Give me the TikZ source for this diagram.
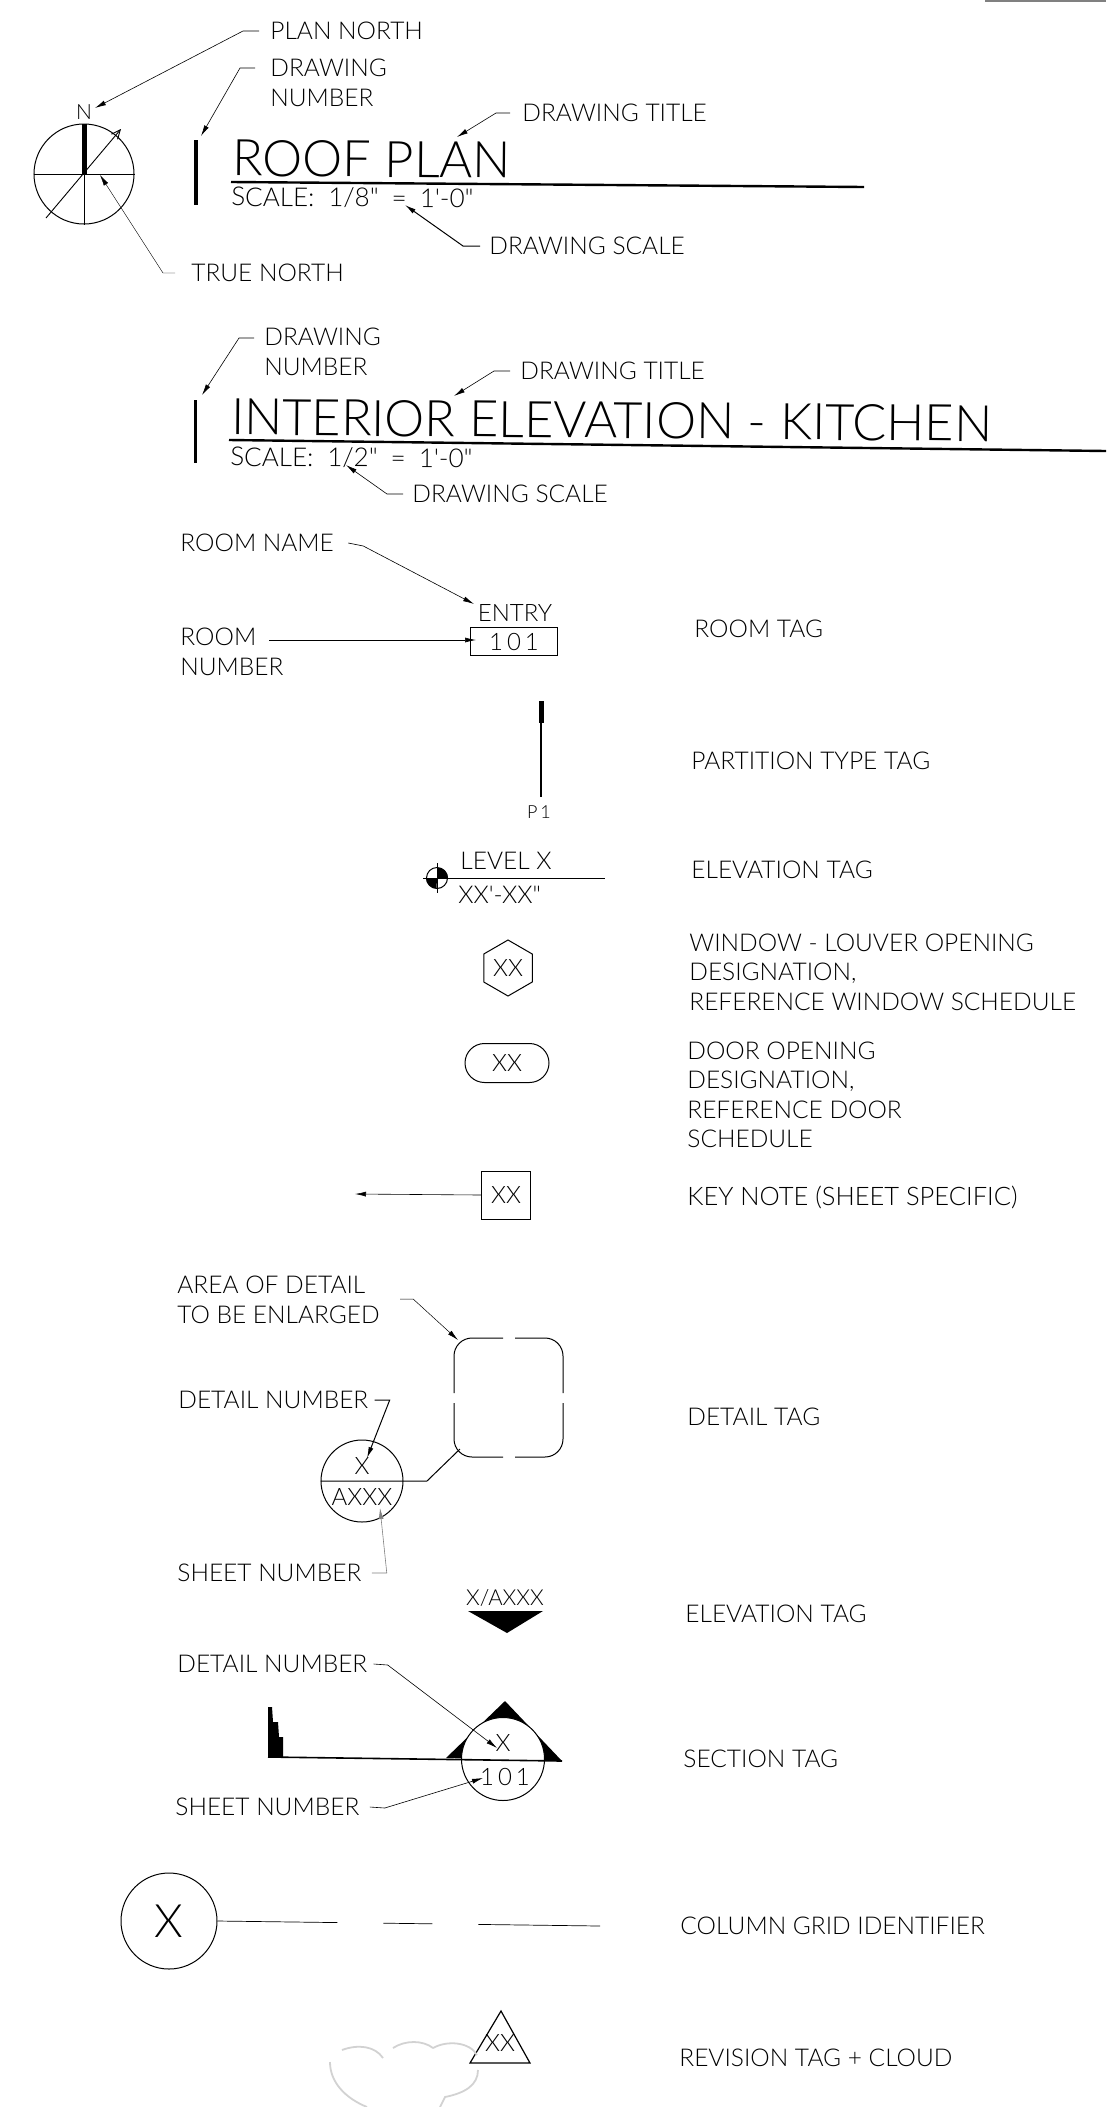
\documentclass[tikz,border=0pt]{standalone}
\usepackage{fontspec}
\setmainfont{Lato Light}[Ligatures=TeXOff]
\usepackage{xcolor}
\usepackage{tikz}
\usetikzlibrary{calc}
\usetikzlibrary{arrows}
\usetikzlibrary{arrows.meta}
\usetikzlibrary{shapes}
\usetikzlibrary{shapes.geometric}
\tikzset{>=latex}
\tikzstyle{lbl} = [draw=none, inner sep=0pt, anchor=west, align=left, font=\fontsize{24.5}{29.5}\selectfont]
\tikzstyle{lbltwo} = [lbl, anchor=north west]
\tikzstyle{ttl} = [lbl, rotate=-0.5, font=\fontsize{50.5}{51}\selectfont]
\tikzstyle{scl} = [lbl, rotate=-0.4, font=\fontsize{26}{26}\selectfont]
\tikzstyle{tagtxt} = [draw=none, inner sep=0pt, font=\fontsize{24}{24}\selectfont]
\tikzstyle{leader} = [-{Latex[length=11pt,width=5pt]}, line width=0.6pt]
\tikzstyle{faint} = [leader, draw=gray]
\tikzstyle{bar} = [line width=3.5pt]
\tikzstyle{rule} = [line width=2.4pt]
\tikzstyle{tagbox} = [draw, line width=1pt, inner sep=0pt]
\tikzstyle{cld} = [line width=1.8pt, draw=gray!35]

\begin{document}
\begin{tikzpicture}[x=1pt, y=-1pt, line width=0.8pt]
\useasboundingbox (0,0) rectangle (1106,2107);
\draw [line width=1.6pt, draw=gray] (985,1) to (1106,1);

% roof plan title
\node [tagbox, circle, minimum size=100pt] (NC) at (84,174) {};
\node [tagtxt, font=\fontsize{21}{21}\selectfont] (Nlet) at (84,112) {N};
\draw [line width=5pt] (NC.north) to (NC.center);
\draw [line width=1pt] (NC.west) to (NC.east);
\draw [line width=0.5pt] (NC.center) to (NC.south);
\coordinate (TNa) at (46,218);
\coordinate (TNb) at (121,129);
\draw [->, >={Straight Barb[length=9pt,width=8pt]}, line width=0.9pt] (TNa) to (TNb);
\coordinate (PNt) at (95,108);
\coordinate (TNt) at (100,175);
\coordinate (DNt) at (201,136);
\coordinate (DTt) at (457,137);
\coordinate (DSt) at (405,205);
\node [lbl] (PN) at (270,31) {PLAN NORTH};
\node [lbltwo] (DN) at (270,59) {DRAWING\\NUMBER};
\node [lbl] (TN) at (191,273) {TRUE NORTH};
\node [lbl] (DT) at (522,113) {DRAWING TITLE};
\node [lbl] (DS) at (489,246) {DRAWING SCALE};
\node [ttl] (RP) at (232,158) {ROOF PLAN};
\node [scl] (S1) at (231,197) {SCALE:\hspace{14pt}1/8"\hspace{13pt}=\hspace{13pt}1'-0"};
\coordinate (R1a) at (231,182);
\coordinate (R1b) at (864,187);
\coordinate (B1a) at (196,140);
\coordinate (B1b) at (196,205);
\draw [rule] (R1a) to (R1b);
\draw [bar] (B1a) to (B1b);
\draw [leader] ([xshift=-11pt]PN.west) -- ++(-16,0) -- (PNt);
\draw [leader, line width=0.4pt] ([xshift=-16pt]TN.west) -- ++(-12,0) -- (TNt);
\draw [leader] ([shift={(-15,9)}]DN.north west) -- ++(-15,0) -- (DNt);
\draw [leader] ([xshift=-12pt]DT.west) -- ++(-14,0) -- (DTt);
\draw [leader, line width=1pt] ([xshift=-9pt]DS.west) -- ++(-17,0) -- (DSt);

% interior elevation title
\coordinate (DNu) at (202,395);
\coordinate (DTu) at (454,396);
\coordinate (DSu) at (346,465);
\node [lbltwo] (DN2) at (264,328) {DRAWING\\NUMBER};
\node [lbl] (DT2) at (520,371) {DRAWING TITLE};
\node [lbl] (DS2) at (412,494) {DRAWING SCALE};
\node [ttl] (IE) at (231,417) {INTERIOR ELEVATION - KITCHEN};
\node [scl] (S2) at (230,457) {SCALE:\hspace{14pt}1/2"\hspace{13pt}=\hspace{13pt}1'-0"};
\coordinate (R2a) at (229,440);
\coordinate (R2b) at (1106,451);
\coordinate (B2a) at (195,400);
\coordinate (B2b) at (195,463);
\draw [rule] (R2a) to (R2b);
\draw [bar, line width=3pt] (B2a) to (B2b);
\draw [leader] ([shift={(-10,10)}]DN2.north west) -- ++(-15,0) -- (DNu);
\draw [leader] ([xshift=-10pt]DT2.west) -- ++(-16,0) -- (DTu);
\draw [leader] ([xshift=-9pt]DS2.west) -- ++(-16,0) -- (DSu);

% room tag
\node [lbl] (RN) at (180,543) {ROOM NAME};
\node [lbltwo] (RNo) at (180,628) {ROOM\\NUMBER};
\node [tagbox, minimum width=87pt, minimum height=28pt] (RB) at (514,641) {};
\node [tagtxt] (Rnum) at (514,642) {1\,0\,1};
\node [tagtxt] (Rent) at (515,613) {ENTRY};
\coordinate (RNt) at (474,604);
\coordinate (RNe) at (269,640);
\coordinate (RNf) at (476,640);
\draw [leader] ([xshift=14pt]RN.east) -- ++(15,3) -- (RNt);
\draw [leader] (RNe) to (RNf);
\node [lbl] (RT) at (694,629) {ROOM TAG};

% partition
\coordinate (Pa) at (541,701);
\coordinate (Pb) at (541,723);
\coordinate (Pc) at (541,797);
\draw [line width=5pt] (Pa) to (Pb);
\draw [line width=1.2pt] (Pb) to (Pc);
\node [tagtxt, font=\fontsize{18}{18}\selectfont] (Pn) at (539,812) {P\,1};
\node [lbl] (PT) at (691,761) {PARTITION TYPE TAG};

% level
\node [tagbox, circle, minimum size=21pt] (LC) at (437,878) {};
\fill (LC.center) -- (LC.east) arc (0:-90:10.5) -- cycle;
\fill (LC.center) -- (LC.west) arc (180:90:10.5) -- cycle;
\coordinate (Lb) at (605,878);
\coordinate (Lc) at (423,878);
\coordinate (Ld) at (437,863);
\coordinate (Le) at (437,893);
\draw [line width=1pt] (Lc) to (Lb);
\draw [line width=1pt] (Ld) to (Le);
\node [lbl] (Lv) at (460,861) {LEVEL X};
\node [lbl] (Lh) at (458,895) {XX'-XX"};
\node [lbl] (ET) at (691,870) {ELEVATION TAG};

% window
\node [tagbox, regular polygon, regular polygon sides=6, shape border rotate=30, minimum size=56pt, tagtxt, draw] (WH) at (508,968) {XX};
\node [lbl] (WT) at (689,972) {WINDOW - LOUVER OPENING\\DESIGNATION,\\REFERENCE WINDOW SCHEDULE};

% door
\node [tagbox, rounded rectangle, minimum width=84pt, minimum height=39pt, tagtxt, draw] (DO) at (507,1063) {XX};
\node [lbl] (DL) at (687,1095) {DOOR OPENING\\DESIGNATION,\\REFERENCE DOOR\\SCHEDULE};

% key note
\node [tagbox, minimum width=49pt, minimum height=48pt, tagtxt, draw] (KB) at (506,1195) {XX};
\coordinate (Kt) at (355,1194);
\draw [leader] (KB.west) to (Kt);
\node [lbl, font=\fontsize{25.5}{30}\selectfont] (KN) at (687,1197) {KEY NOTE (SHEET SPECIFIC)};

% detail tag
\draw [rounded corners=18pt, line width=1pt] (454,1393) |- (503,1338);
\draw [rounded corners=18pt, line width=1pt] (515,1338) -| (563,1393);
\draw [rounded corners=18pt, line width=1pt] (563,1403) |- (515,1457);
\draw [rounded corners=18pt, line width=1pt] (503,1457) -| (454,1403);
\node [lbltwo] (AD) at (177,1276) {AREA OF DETAIL\\TO BE ENLARGED};
\node [lbl] (DD) at (178,1400) {DETAIL NUMBER};
\node [lbl] (SD) at (177,1573) {SHEET NUMBER};
\node [tagbox, circle, minimum size=82pt] (DC) at (362,1481) {};
\node [tagtxt] (Dx) at (362,1466) {X};
\node [tagtxt] (Da) at (362,1497) {AXXX};
\coordinate (Dk) at (427,1481);
\coordinate (Dl) at (460,1449);
\draw [line width=1pt] (DC.west) -- (Dk) -- (Dl);
\coordinate (ADt) at (458,1340);
\coordinate (DDt) at (367,1458);
\coordinate (SDt) at (380,1508);
\draw [leader, line width=0.5pt] ([shift={(20,23)}]AD.north east) -- ++(13,0) -- (ADt);
\draw [leader, line width=1pt] ([xshift=6pt]DD.east) -- ++(15,0) -- (DDt);
\draw [faint] ([xshift=10pt]SD.east) -- ++(15,0) -- (SDt);
\node [lbl] (DG) at (687,1417) {DETAIL TAG};

% elevation tag
\node [tagtxt, font=\fontsize{22}{22}\selectfont] (Ex) at (505,1598) {X/AXXX};
\coordinate (Ea) at (468,1611);
\coordinate (Eb) at (543,1611);
\coordinate (Ec) at (507,1633);
\fill (Ea) -- (Eb) -- (Ec) -- cycle;
\node [lbl] (EG) at (685,1614) {ELEVATION TAG};

% section tag
\coordinate (Fb) at (268,1757);
\coordinate (Fc) at (283,1757);
\fill (268,1707) -- (272,1707) -- (273,1722) -- (278,1722) -- (279,1737) -- (283,1737) -- (Fc) -- (Fb) -- cycle;
\coordinate (Sa) at (505,1701);
\coordinate (Sb) at (446,1758);
\coordinate (Sc) at (562,1761);
\fill (Sa) -- (Sb) -- (Sc) -- cycle;
\node [tagbox, circle, minimum size=83pt, fill=white] (SC) at (503,1759) {};
\draw [line width=1.6pt] (Fb) to (Sc);
\node [tagtxt] (Sx) at (503,1743) {X};
\node [tagtxt] (Sn) at (505,1777) {1\,0\,1};
\node [lbl] (SE) at (177,1664) {DETAIL NUMBER};
\node [lbl] (SS) at (175,1807) {SHEET NUMBER};
\coordinate (SEt) at (497,1748);
\coordinate (SSt) at (483,1778);
\draw [leader] ([xshift=6pt]SE.east) -- ++(14,1) -- (SEt);
\draw [leader] ([xshift=10pt]SS.east) -- ++(15,1) -- (SSt);
\node [lbl] (SG) at (683,1759) {SECTION TAG};

% column grid
\node [tagbox, circle, minimum size=96pt, font=\fontsize{46}{46}\selectfont] (CC) at (169,1921) {X};
\coordinate (Ce) at (600,1926);
\draw [dash pattern=on 120pt off 46pt on 49pt off 46pt on 122pt, line width=0.7pt] (CC.east) to (Ce);
\node [lbl] (CG) at (680,1926) {COLUMN GRID IDENTIFIER};

% revision tag
\node [tagtxt] (Tx) at (500,2043) {XX};
\coordinate (Ta) at (501,2011);
\coordinate (Tb) at (470,2063);
\coordinate (Tc) at (530,2063);
\draw [line width=1.2pt] (Ta) -- (Tb) -- (Tc) -- cycle;
\draw [cld] (342,2050) .. controls (358,2044) and (375,2046) .. (383,2058);
\draw [cld] (393,2048) .. controls (405,2040) and (423,2040) .. (433,2048);
\draw [cld] (433,2048) .. controls (447,2040) and (470,2042) .. (477,2055);
\draw [cld] (478,2070) .. controls (478,2085) and (465,2093) .. (445,2097) -- (440,2107);
\draw [cld] (330,2062) .. controls (330,2082) and (345,2098) .. (367,2107);
\node [lbl] (RG) at (679,2058) {REVISION TAG + CLOUD};
\end{tikzpicture}
\end{document}
